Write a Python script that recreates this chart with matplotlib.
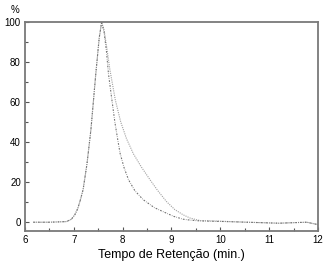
import matplotlib
matplotlib.use("Agg")
import matplotlib.pyplot as plt
from matplotlib.ticker import MultipleLocator

plt.rcParams['font.family'] = ['Liberation Sans', 'DejaVu Sans']

# retention time (min) and relative intensity (%)
x_narrow = [6.17, 6.5, 6.85, 6.95, 7.02, 7.08, 7.13, 7.19, 7.27, 7.35, 7.45, 7.52, 7.57,
            7.62, 7.67, 7.71, 7.78, 7.84, 7.9, 7.95, 8.03, 8.12, 8.25, 8.42, 8.65, 8.9,
            9.05, 9.24, 9.4, 9.59, 10.0, 10.54, 11.2, 11.77, 12.0]
y_narrow = [-0.3, -0.3, 0.0, 1.2, 3.4, 6.5, 10.5, 16, 29, 46, 74, 92, 100,
            95, 85, 74, 61, 50, 41, 34, 27, 21, 15.5, 11, 7, 4.2,
            2.6, 1.2, 0.7, 0.35, 0.1, -0.3, -0.8, -0.3, -1.5]

x_broad = [6.17, 6.5, 6.85, 6.95, 7.02, 7.08, 7.13, 7.19, 7.27, 7.35, 7.45, 7.52, 7.57,
           7.62, 7.67, 7.74, 7.85, 7.96, 8.08, 8.22, 8.38, 8.56, 8.72, 8.9, 9.07, 9.24,
           9.38, 9.52, 9.59, 10.0, 10.54, 11.2, 11.77, 12.0]
y_broad = [-0.3, -0.3, 0.0, 1.2, 3.4, 6.5, 10.5, 16, 29, 46, 74, 92, 100,
           96, 88, 76, 61, 50, 41.5, 34, 27.5, 21, 15.5, 10, 6, 3.4,
           1.8, 0.9, 0.5, 0.2, -0.3, -0.8, -0.3, -1.5]

fig = plt.figure(figsize=(3.31, 2.69), dpi=100)
ax = fig.add_axes([0.0755, 0.1413, 0.885, 0.7767])

ax.plot(x_broad, y_broad, color='#a0a0a0', lw=0.8, linestyle=(0, (1, 1)))
ax.plot(x_narrow, y_narrow, color='#707070', lw=0.8, linestyle=(0, (1.5, 1.2, 0.5, 1.2)))

ax.set_xlim(6, 12)
ax.set_ylim(-4.7, 100)
ax.xaxis.set_major_locator(MultipleLocator(1))
ax.xaxis.set_minor_locator(MultipleLocator(0.5))
ax.yaxis.set_major_locator(MultipleLocator(20))
ax.yaxis.set_minor_locator(MultipleLocator(10))
ax.tick_params(which='both', direction='in', color='#555555', labelsize=7, pad=3)
ax.tick_params(which='major', length=3, width=0.8)
ax.tick_params(which='minor', length=2, width=0.8)

for s in ax.spines.values():
    s.set_color('#7a7a7a')
    s.set_linewidth(1.3)

ax.set_xlabel("Tempo de Retenção (min.)", fontsize=9, labelpad=3)
fig.text(15 / 331, 1 - 10 / 269, "%", fontsize=7, ha='center', va='center')

fig.savefig("out.png", dpi=100)
